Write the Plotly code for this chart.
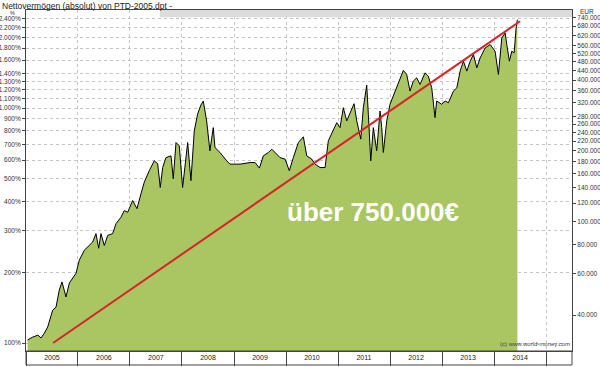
import math
import pandas as pd
import plotly.graph_objects as go

# ---- data ----
t_years = [2005.03, 2005.13, 2005.23, 2005.288, 2005.352, 2005.417, 2005.513, 2005.577, 2005.640, 2005.692,
           2005.769, 2005.833, 2005.962, 2006.025, 2006.121, 2006.217, 2006.283, 2006.346, 2006.398, 2006.442,
           2006.506, 2006.571, 2006.667, 2006.731, 2006.827, 2006.890, 2006.956, 2007.052, 2007.135, 2007.212,
           2007.275, 2007.371, 2007.467, 2007.533, 2007.583, 2007.629, 2007.692, 2007.788, 2007.833, 2007.885,
           2007.948, 2008.013, 2008.110, 2008.173, 2008.237, 2008.302, 2008.365, 2008.410, 2008.475, 2008.538,
           2008.602, 2008.635, 2008.731, 2008.860, 2008.923, 2009.115, 2009.308, 2009.404, 2009.487, 2009.563,
           2009.660, 2009.725, 2009.788, 2009.885, 2009.981, 2010.063, 2010.140, 2010.237, 2010.333, 2010.398,
           2010.494, 2010.558, 2010.654, 2010.750, 2010.813, 2010.910, 2010.975, 2011.038, 2011.102, 2011.167,
           2011.231, 2011.308, 2011.360, 2011.437, 2011.487, 2011.552, 2011.583, 2011.629, 2011.679, 2011.744,
           2011.808, 2011.840, 2011.871, 2011.937, 2012.000, 2012.096, 2012.192, 2012.256, 2012.321, 2012.385,
           2012.448, 2012.513, 2012.577, 2012.673, 2012.737, 2012.802, 2012.865, 2012.898, 2012.994, 2013.058,
           2013.121, 2013.217, 2013.283, 2013.346, 2013.410, 2013.475, 2013.538, 2013.602, 2013.667, 2013.731,
           2013.827, 2013.923, 2014.019, 2014.083, 2014.148, 2014.212, 2014.244, 2014.294, 2014.340, 2014.385,
           2014.423, 2014.448]
net_pct = [103, 106, 108, 105, 110, 117, 138, 142, 168, 182,
           157, 180, 198, 225, 248, 260, 269, 292, 253, 292,
           260, 287, 292, 322, 343, 366, 360, 404, 373, 432,
           483, 541, 596, 579, 459, 558, 615, 626, 500, 713,
           690, 459, 713, 491, 799, 943, 1030, 1070, 881, 657,
           825, 679, 647, 596, 577, 577, 586, 586, 555, 626,
           647, 668, 647, 615, 606, 541, 615, 713, 754, 626,
           606, 577, 558, 558, 725, 799, 866, 825, 1003, 881,
           955, 1043, 881, 737, 1003, 1252, 940, 596, 825, 657,
           971, 825, 647, 881, 1037, 1180, 1344, 1445, 1389, 1180,
           1301, 1344, 1260, 1411, 1366, 1219, 910, 1071, 1037, 1071,
           1053, 1180, 1219, 1435, 1582, 1435, 1582, 1689, 1482, 1634,
           1801, 1862, 1744, 1389, 1986, 2085, 1862, 1582, 1744, 1716,
           2189, 2376]

trend_years = [2005.52, 2014.50]
trend_pct = [100, 2340]

eur_per_pct = 304.5  # EUR value of 1 % (ratio between the two axes)

years = [2005, 2006, 2007, 2008, 2009, 2010, 2011, 2012, 2013, 2014]

left_ticks = [100, 200, 300, 400, 500, 600, 700, 800, 900, 1000, 1100, 1200, 1300, 1400,
              1600, 1800, 2000, 2200, 2400]
left_labels = ["100%", "200%", "300%", "400%", "500%", "600%", "700%", "800%", "900%",
               "1.000%", "1.100%", "1.200%", "1.300%", "1.400%", "1.600%", "1.800%",
               "2.000%", "2.200%", "2.400%"]
right_ticks = [40000, 60000, 80000, 100000, 120000, 140000, 160000, 180000, 200000, 220000,
               240000, 260000, 280000, 320000, 360000, 400000, 440000, 480000, 520000,
               560000, 620000, 680000, 740000]
right_labels = ["40.000", "60.000", "80.000", "100.000", "120.000", "140.000", "160.000",
                "180.000", "200.000", "220.000", "240.000", "260.000", "280.000", "320.000",
                "360.000", "400.000", "440.000", "480.000", "520.000", "560.000", "620.000",
                "680.000", "740.000"]

title_text = "Nettovermögen (absolut) von PTD-2005.dpt -"
big_text = "über 750.000€"
credit_text = "(c) www.world-money.com"


def to_date(y):
    yi = int(y)
    return pd.Timestamp(f"{yi}-01-01") + pd.Timedelta(days=(y - yi) * 365.25)


dates = [to_date(y) for y in t_years]
trend_dates = [to_date(y) for y in trend_years]
net_eur = [v * eur_per_pct for v in net_pct]

FONT = "Liberation Sans, Arial, sans-serif"
AX = "#444444"

fig = go.Figure()
fig.add_trace(go.Scatter(x=dates, y=net_pct, mode="lines", fill="tozeroy",
                         fillcolor="#a9c662", line=dict(color="#000000", width=1),
                         hoverinfo="skip", showlegend=False))
fig.add_trace(go.Scatter(x=dates, y=net_eur, yaxis="y2", mode="lines",
                         line=dict(width=0), opacity=0, hoverinfo="skip", showlegend=False))
fig.add_trace(go.Scatter(x=trend_dates, y=trend_pct, mode="lines",
                         line=dict(color="#d8232a", width=2), hoverinfo="skip", showlegend=False))

y_lo, y_hi = 1.966, 3.417
shift = math.log10(eur_per_pct)

fig.update_layout(
    width=600, height=367,
    margin=dict(l=26, r=28, t=10, b=16, autoexpand=False),
    paper_bgcolor="white", plot_bgcolor="white",
    font=dict(family=FONT, color="#222222"),
    xaxis=dict(
        type="date", automargin=False,
        range=["2005-01-01", "2015-07-02"],
        tickmode="array",
        tickvals=[f"{y}-07-02" for y in years],
        ticktext=[str(y) for y in years],
        ticks="", showgrid=False,
        tickfont=dict(size=7, color="#222222"),
        showline=True, linecolor=AX, linewidth=1, mirror=True,
        minor=dict(tickmode="array",
                   tickvals=[f"{y}-01-01" for y in years + [years[-1] + 1]],
                   ticks="outside", ticklen=14, tickcolor=AX, tickwidth=1,
                   showgrid=True, gridcolor="#c4c4c4", griddash="dot", gridwidth=1),
        zeroline=False,
    ),
    yaxis=dict(
        type="log", range=[y_lo, y_hi], automargin=False,
        tickmode="array", tickvals=left_ticks, ticktext=left_labels,
        ticks="outside", ticklen=3, tickcolor=AX,
        tickfont=dict(size=6.5, color="#333333"),
        showgrid=True, gridcolor="#c4c4c4", griddash="dot", gridwidth=1,
        showline=True, linecolor=AX, linewidth=1, zeroline=False,
    ),
    yaxis2=dict(
        type="log", range=[y_lo + shift, y_hi + shift], overlaying="y", side="right",
        automargin=False,
        tickmode="array", tickvals=right_ticks, ticktext=right_labels,
        ticks="outside", ticklen=3, tickcolor=AX,
        tickfont=dict(size=6.5, color="#333333"),
        showgrid=False, showline=True, linecolor=AX, linewidth=1, zeroline=False,
    ),
    shapes=[
        dict(type="rect", xref="paper", yref="paper", x0=0.245, x1=1, y0=0.979, y1=1,
             fillcolor="#dcdcdc", line=dict(width=0), layer="above"),
        dict(type="rect", xref="paper", yref="paper", x0=0, x1=1, y0=-0.041, y1=0,
             line=dict(color=AX, width=1), fillcolor="rgba(0,0,0,0)"),
    ],
    annotations=[
        dict(text=title_text, xref="paper", yref="paper", x=-0.046, y=1.029,
             xanchor="left", yanchor="top", showarrow=False, borderpad=0,
             font=dict(size=8.5, color="#222222")),
        dict(text="%", xref="paper", yref="paper", x=-0.024, y=0.992,
             xanchor="center", yanchor="middle", showarrow=False, borderpad=0,
             font=dict(size=5.5, color="#333333")),
        dict(text="EUR", xref="paper", yref="paper", x=1.027, y=0.996,
             xanchor="center", yanchor="middle", showarrow=False,
             font=dict(size=6.5, color="#333333")),
        dict(text="<b>" + big_text + "</b>", xref="paper", yref="paper", x=0.636, y=0.408,
             xanchor="center", yanchor="middle", showarrow=False,
             font=dict(size=26, color="white")),
        dict(text=credit_text, xref="paper", yref="paper", x=1.0, y=0.005,
             xanchor="right", yanchor="bottom", showarrow=False,
             font=dict(size=6, color="#444444")),
    ],
)

fig.write_html("out.html")
